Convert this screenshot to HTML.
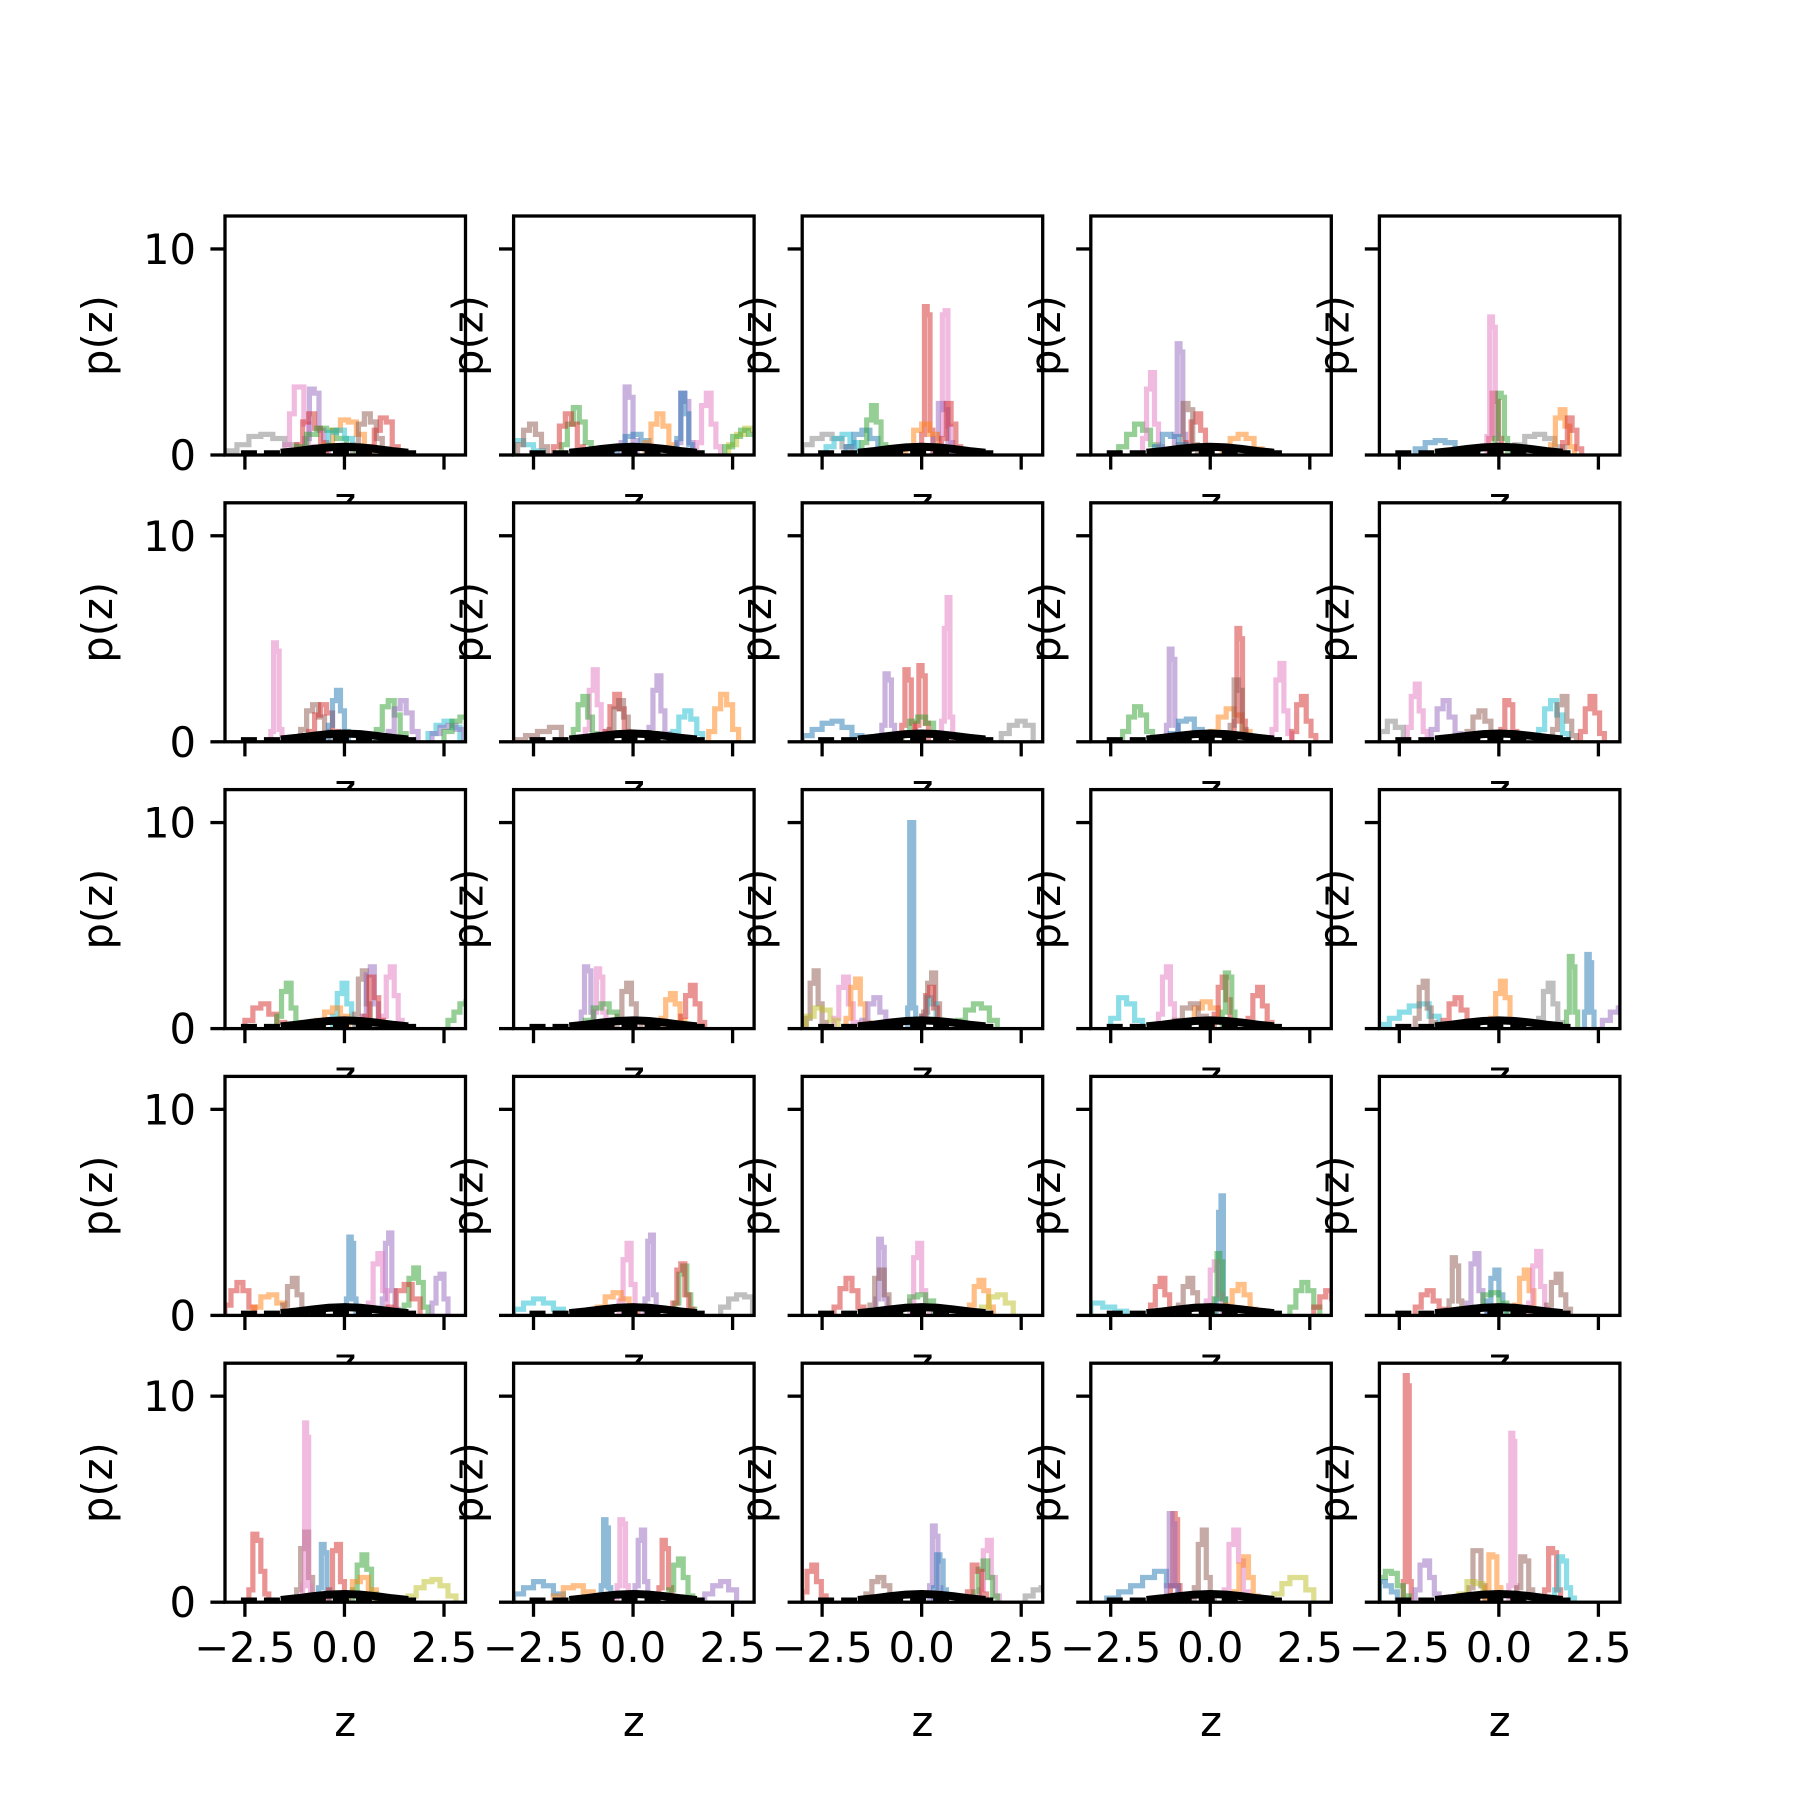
<!DOCTYPE html>
<html><head><meta charset="utf-8"><style>
html,body{margin:0;padding:0;background:#fff}
svg{display:block}
text{font-family:"DejaVu Sans","Liberation Sans",sans-serif;fill:#000}
</style></head><body>
<svg id="fig" width="1800" height="1800" viewBox="0 0 1800 1800" xmlns="http://www.w3.org/2000/svg"></svg>
<script>
const colors=["#1f77b4","#ff7f0e","#2ca02c","#d62728","#9467bd","#8c564b","#e377c2","#7f7f7f","#bcbd22","#17becf"];
const xTicks=[-2.5,0,2.5];
const xTickLabels=["\u22122.5","0.0","2.5"];
const yTicks=[0,10];
const yTickLabels=["0","10"];
const refX=[-1.6,-1.2,-0.8,-0.4,0,0.4,0.8,1.2,1.6];
const refY=[0.11,0.19,0.29,0.37,0.40,0.37,0.29,0.19,0.11];
const dashX=[-2.6,1.8];
const dashY=[0.12,0.12];
// each series: [colorIndex, firstBinLeft, binWidth, [densities]]
const hists=[
[[7,-3,0.3,[0.2,0.5,0.9,1.0,0.8,0.5,0.2]],[6,-1.5,0.12,[0.5,2,3.3,3.3,1.5,0.4]],[4,-1.0,0.12,[0.8,3.2,3.0,1.2,0.4]],[3,-1.2,0.15,[0.5,1.6,2.0,1.3,0.6]],[1,-0.5,0.2,[0.5,1.2,1.7,1.6,1.0,0.4]],[5,0.2,0.15,[0.5,1.5,2.0,1.6,0.8,0.3]],[3,0.6,0.15,[0.4,1.2,1.8,1.6,0.4]],[2,-1.2,0.25,[0.4,1.0,1.3,1.2,0.8,0.3]],[9,-0.6,0.2,[0.4,1.1,1.2,0.8,0.3]]],
[[9,-3,0.25,[0.7,0.5,0.2]],[5,-2.9,0.15,[0.5,1.2,1.5,1.0,0.4]],[2,-1.8,0.15,[0.5,1.5,2.3,1.6,0.6]],[3,-2.0,0.15,[0.4,1.4,2.0,1.5,0.4]],[4,-0.3,0.1,[0.6,3.3,2.8,0.7]],[0,-0.4,0.2,[0.4,0.9,1.0,0.7]],[1,0.3,0.15,[0.6,1.5,2.0,1.4,0.5]],[4,1.1,0.1,[0.6,3.0,2.6,0.6]],[0,1.1,0.1,[0.8,3.0,2.0,0.5]],[6,1.6,0.12,[0.6,2.4,3.0,1.5,0.4]],[8,2.4,0.2,[0.5,1.0,1.3,1.2]],[2,2.3,0.2,[0.4,0.9,1.2,1.0]]],
[[7,-3,0.25,[0.5,0.8,1.0,0.8,0.4]],[9,-2.4,0.2,[0.4,0.8,1.0,0.6]],[0,-1.9,0.2,[0.4,1.0,1.2,0.8,0.3]],[2,-1.5,0.12,[0.6,1.7,2.4,1.6,0.5]],[3,0.0,0.07,[1,7.2,6.8,1.2]],[6,0.45,0.07,[1,6.8,7.0,1.4]],[4,0.3,0.12,[0.8,2.5,2.2,0.6]],[1,-0.4,0.2,[0.4,1.2,1.5,1.0,0.4]],[3,0.5,0.12,[0.8,2.5,1.5,0.4]]],
[[2,-2.3,0.2,[0.4,1.0,1.5,1.2,0.5]],[6,-1.7,0.1,[0.8,3.2,4.0,1.5,0.4]],[4,-0.9,0.07,[1,5.4,5.0,1.0]],[3,-0.6,0.12,[0.6,1.6,2.0,1.2,0.4]],[5,-0.8,0.12,[0.5,2.5,2.2,0.5]],[1,0.3,0.2,[0.4,0.8,1.0,0.8,0.3]],[0,-1.4,0.2,[0.4,1.0,0.9,0.5]]],
[[0,-2.1,0.25,[0.3,0.6,0.7,0.6,0.3]],[3,-0.25,0.08,[0.8,3.0,2.6,0.8]],[6,-0.3,0.07,[0.9,6.7,6.2,1.0]],[2,-0.1,0.08,[0.8,3.0,2.8,0.8]],[7,0.4,0.25,[0.5,0.9,1.0,0.8,0.4]],[1,1.3,0.12,[0.5,1.8,2.2,1.4,0.4]],[3,1.6,0.12,[0.6,1.8,1.2,0.3]]],
[[6,-1.85,0.07,[0.5,4.8,4.4,0.6]],[5,-1.1,0.15,[0.6,1.5,1.8,1.2,0.5]],[3,-0.9,0.15,[0.5,1.3,1.8,1.4,0.5]],[0,-0.4,0.1,[0.8,2.0,2.5,1.5,0.5]],[2,0.8,0.15,[0.6,1.7,2.0,1.3,0.4]],[4,1.1,0.15,[0.5,1.6,2.0,1.4,0.5]],[9,2.1,0.2,[0.4,0.8,1.0,0.7]],[4,2.2,0.2,[0.4,0.7,0.8,0.6]],[2,2.5,0.2,[0.5,1.0,1.2,1.1]]],
[[5,-3,0.3,[0.1,0.3,0.5,0.7]],[6,-1.2,0.1,[0.6,2.5,3.5,1.8,0.5]],[2,-1.5,0.12,[0.6,1.8,2.2,1.2,0.4]],[3,-0.7,0.12,[0.5,1.7,2.3,1.6,0.5]],[5,-0.6,0.12,[0.6,1.6,2.0,1.2,0.4]],[4,0.4,0.1,[0.7,2.5,3.2,1.5,0.4]],[9,1.0,0.15,[0.5,1.2,1.5,1.1,0.4]],[1,1.9,0.15,[0.5,1.6,2.3,1.8,0.6]]],
[[0,-3,0.25,[0.3,0.6,0.9,1.0,0.7,0.3]],[4,-1.0,0.08,[0.8,3.3,3.0,0.8]],[3,-0.5,0.08,[0.8,3.5,3.0,0.9]],[3,-0.15,0.08,[0.8,3.7,3.2,0.9]],[6,0.5,0.07,[1,5.5,7.0,1.2]],[2,-0.5,0.2,[0.4,1.0,1.2,0.9,0.4]],[7,2.0,0.2,[0.4,0.8,1.0,0.8]]],
[[2,-2.2,0.15,[0.5,1.2,1.7,1.3,0.5]],[4,-1.1,0.07,[0.8,4.5,4.0,0.8]],[0,-1.0,0.2,[0.4,1.0,1.1,0.6]],[1,0.0,0.2,[0.5,1.2,1.6,1.3,0.5]],[3,0.6,0.07,[1,5.5,5.0,1.0]],[5,0.5,0.1,[0.8,3.0,2.5,0.6]],[6,1.55,0.1,[0.6,3.0,3.8,1.5,0.4]],[3,2.05,0.12,[0.5,1.8,2.2,1.0,0.3]]],
[[7,-3,0.2,[0.5,1.0,0.7]],[6,-2.3,0.1,[0.7,2.2,2.8,1.5,0.5]],[4,-1.7,0.15,[0.6,1.6,2.0,1.2,0.4]],[5,-0.8,0.15,[0.5,1.2,1.5,1.0,0.4]],[3,0.05,0.1,[0.6,2.0,1.8,0.5]],[9,1.0,0.15,[0.6,1.6,2.0,1.3,0.4]],[5,1.35,0.12,[0.6,1.8,2.2,1.0,0.3]],[3,2.05,0.12,[0.5,1.6,2.2,1.4,0.4]]],
[[3,-2.5,0.2,[0.4,1.0,1.2,0.7,0.3]],[2,-1.7,0.12,[0.6,1.8,2.2,1.0,0.3]],[9,-0.3,0.12,[0.6,1.7,2.2,1.2,0.3]],[1,-0.7,0.2,[0.4,0.8,1.0,0.6]],[5,0.25,0.1,[0.7,2.4,2.8,1.2,0.3]],[4,0.45,0.1,[0.6,2.6,3.0,1.2,0.3]],[6,0.95,0.1,[0.6,2.5,3.0,1.6,0.4]],[3,0.5,0.12,[0.6,2.5,1.5,0.4]],[2,2.6,0.15,[0.4,0.8,1.2,1.3]]],
[[4,-1.3,0.08,[0.8,3.0,2.8,0.8]],[6,-1.0,0.08,[0.8,2.9,2.5,0.8]],[5,-0.4,0.12,[0.6,1.8,2.2,1.2,0.4]],[2,-1.2,0.2,[0.4,1.0,1.2,0.8,0.3]],[1,0.7,0.12,[0.5,1.4,1.7,1.2,0.4]],[3,1.2,0.12,[0.6,1.6,2.1,1.2,0.3]]],
[[5,-2.9,0.1,[0.5,2.2,2.8,1.2,0.3]],[6,-2.2,0.12,[0.5,2.0,2.5,1.2,0.3]],[1,-1.9,0.12,[0.5,2.0,2.4,1.2,0.3]],[4,-1.5,0.15,[0.4,1.2,1.5,0.8,0.3]],[0,-0.35,0.05,[1,10,10,1]],[5,0.05,0.1,[0.8,2.2,2.7,1.2,0.3]],[2,0.9,0.2,[0.4,0.9,1.2,1.0,0.4]],[9,0.0,0.12,[0.6,1.5,1.2,0.4]],[3,0.0,0.1,[0.6,1.6,2.0,1.0,0.4]],[8,-2.9,0.2,[0.6,1.0,0.9,0.4]]],
[[9,-2.5,0.2,[0.5,1.5,1.2,0.4]],[6,-1.3,0.1,[0.7,2.5,3.0,1.2,0.3]],[1,-0.6,0.2,[0.4,1.0,1.3,1.0,0.4]],[3,0.1,0.1,[0.7,2.0,2.5,1.4,0.4]],[2,0.3,0.08,[0.8,2.7,2.5,0.8]],[3,0.95,0.12,[0.5,1.6,2.0,1.1,0.3]],[5,-0.9,0.2,[0.4,1.0,1.2,0.6]]],
[[9,-3,0.25,[0.2,0.5,0.8,1.1,1.2,0.6]],[5,-2.1,0.1,[0.5,2.0,2.3,1.0,0.3]],[3,-1.4,0.15,[0.4,1.2,1.5,0.9,0.3]],[1,-0.2,0.12,[0.5,1.7,2.3,1.5,0.4]],[7,1.0,0.12,[0.5,1.8,2.2,1.2,0.3]],[2,1.7,0.07,[0.8,3.5,3.0,0.8]],[0,2.15,0.06,[0.8,3.6,3.2,0.8]],[4,2.6,0.2,[0.4,0.8,1.0,1.0]]],
[[3,-3,0.15,[0.5,1.2,1.6,1.2,0.4]],[1,-2.3,0.2,[0.4,0.9,1.0,0.6]],[5,-1.55,0.12,[0.5,1.4,1.8,1.0,0.3]],[0,0.05,0.06,[0.8,3.8,3.5,0.8]],[4,0.95,0.08,[0.8,3.5,4.0,1.2,0.3]],[6,0.6,0.12,[0.6,2.5,3.0,1.2,0.3]],[2,1.5,0.12,[0.5,1.8,2.3,1.6,0.4]],[3,1.1,0.2,[0.4,1.2,1.5,0.8]],[4,2.2,0.1,[0.6,1.8,2.0,0.8]]],
[[9,-3,0.25,[0.3,0.6,0.8,0.6,0.3]],[6,-0.35,0.1,[0.7,2.7,3.5,1.5,0.4]],[4,0.3,0.07,[0.8,3.6,3.9,1.0]],[1,-0.9,0.2,[0.4,0.9,1.1,0.8,0.3]],[2,1.05,0.1,[0.6,2.0,2.4,1.0,0.3]],[3,1.0,0.1,[0.6,2.2,2.5,1.0,0.3]],[7,2.2,0.2,[0.4,0.8,1.0,0.9]]],
[[3,-2.2,0.15,[0.4,1.3,1.8,1.2,0.4]],[4,-1.15,0.07,[0.8,3.7,3.3,0.8]],[5,-1.3,0.12,[0.5,1.8,2.2,1.0,0.3]],[6,-0.3,0.1,[0.7,2.8,3.5,1.2,0.3]],[2,-0.5,0.2,[0.4,0.9,1.0,0.7]],[1,1.2,0.12,[0.5,1.4,1.7,1.2,0.4]],[8,1.5,0.2,[0.4,0.9,1.0,0.6]]],
[[9,-3,0.3,[0.6,0.4,0.2]],[3,-1.5,0.12,[0.5,1.4,1.8,1.0,0.3]],[5,-0.8,0.12,[0.5,1.4,1.8,1.1,0.3]],[0,0.15,0.06,[0.8,5.0,5.8,0.8]],[6,-0.1,0.1,[0.7,2.2,2.6,1.0]],[2,0.1,0.07,[0.8,3.0,2.6,0.8]],[1,0.4,0.15,[0.5,1.2,1.5,1.0,0.3]],[2,2.0,0.15,[0.4,1.2,1.6,1.2,0.4]],[3,2.6,0.15,[0.4,0.9,1.2,0.8]]],
[[3,-2.1,0.15,[0.4,1.0,1.2,0.7,0.3]],[5,-1.25,0.08,[0.7,2.8,2.4,0.7]],[4,-0.8,0.1,[0.6,2.5,3.0,1.2,0.3]],[0,-0.3,0.1,[0.7,1.8,2.2,1.0,0.3]],[1,0.4,0.12,[0.5,1.8,2.2,1.2,0.3]],[6,0.75,0.1,[0.6,2.4,3.1,1.4,0.3]],[5,1.2,0.12,[0.5,1.6,2.0,1.0,0.3]],[2,-0.6,0.2,[0.4,1.0,1.1,0.6]]],
[[3,-2.4,0.1,[0.6,3.3,3.0,1.5,0.4]],[5,-1.2,0.1,[0.6,2.6,3.4,1.2,0.3]],[6,-1.05,0.05,[0.8,8.7,8.0,0.8]],[0,-0.65,0.07,[0.7,2.8,2.4,0.6]],[3,-0.4,0.1,[0.6,2.5,2.8,1.0,0.3]],[2,0.2,0.12,[0.6,1.8,2.3,1.6,0.4]],[1,0.0,0.2,[0.4,1.0,1.2,0.6]],[8,1.6,0.2,[0.3,0.7,1.0,1.1,0.8,0.3]]],
[[0,-3,0.25,[0.4,0.7,1.0,0.8,0.4]],[1,-2.0,0.25,[0.3,0.7,0.8,0.5]],[0,-0.8,0.06,[0.8,4.0,3.6,0.7]],[6,-0.4,0.07,[0.8,4.0,3.8,0.8]],[4,0.05,0.08,[0.8,3.0,3.5,1.0]],[3,0.65,0.08,[0.7,3.0,2.6,0.7]],[2,0.9,0.12,[0.6,1.8,2.1,1.2,0.3]],[4,1.8,0.2,[0.4,0.8,1.0,0.6]]],
[[3,-3,0.12,[0.5,1.5,1.8,1.0,0.3]],[5,-1.4,0.15,[0.4,1.0,1.2,0.8,0.3]],[4,0.2,0.07,[0.8,3.7,3.2,0.7]],[0,0.3,0.08,[0.7,2.3,2.0,0.6]],[6,1.45,0.1,[0.6,2.5,3.0,1.2,0.3]],[2,1.3,0.12,[0.5,1.6,2.0,1.2,0.3]],[3,1.15,0.12,[0.5,1.8,1.5,0.4]],[7,2.6,0.2,[0.3,0.6,0.7]]],
[[0,-2.6,0.3,[0.2,0.5,0.8,1.2,1.5,0.8]],[3,-1.0,0.06,[0.8,4.3,4.0,0.8]],[4,-1.1,0.07,[0.8,4.3,3.8,0.8]],[5,-0.4,0.1,[0.7,2.8,3.5,1.2,0.3]],[6,0.35,0.12,[0.6,2.8,3.5,2.0,0.5]],[1,0.6,0.12,[0.5,1.8,2.2,1.2,0.3]],[8,1.6,0.2,[0.4,0.9,1.2,1.2,0.6]]],
[[3,-2.4,0.05,[1,11,10.5,1]],[2,-3,0.15,[1.2,1.5,1.4,0.8,0.3]],[0,-3,0.15,[1.0,0.8,0.5]],[4,-2.1,0.12,[0.6,1.8,2.0,1.2,0.4]],[5,-0.75,0.1,[0.7,2.5,2.5,0.8]],[1,-0.35,0.1,[0.7,2.3,2.2,0.7]],[6,0.25,0.05,[0.8,8.2,7.8,0.8]],[5,0.45,0.1,[0.7,2.2,2.0,0.6]],[3,1.15,0.1,[0.6,2.6,2.4,0.6]],[9,1.4,0.1,[0.6,2.2,2.0,0.7,0.2]],[8,-1.0,0.2,[0.4,1.0,0.9,0.4]]]
];
const NS="http://www.w3.org/2000/svg";
const svg=document.getElementById('fig');
const L0=225,T0=216,W=240.5,H=239,DX=288.6,DY=286.8;
const XMIN=-3.0,XMAX=3.04,YMIN=0,YMAX=11.6;
function mk(tag,attrs,parent){const e=document.createElementNS(NS,tag);for(const k in attrs)e.setAttribute(k,attrs[k]);(parent||svg).appendChild(e);return e;}
const defs=mk('defs',{});
for(let p=0;p<25;p++){
  const r=Math.floor(p/5),c=p%5;
  const L=L0+c*DX,T=T0+r*DY;
  const sx=v=>L+(v-XMIN)/(XMAX-XMIN)*W;
  const sy=v=>T+H-(v-YMIN)/(YMAX-YMIN)*H;
  const g=mk('g',{});
  
  
  const cp=mk('clipPath',{id:'cp'+p},defs);
  mk('rect',{x:L,y:T,width:W,height:H},cp);
  const face=mk('rect',{x:L,y:T,width:W,height:H,fill:'#fff'},g);
  
  
  const dg=mk('g',{'clip-path':'url(#cp'+p+')'},g);
  hists[p].forEach((s,i)=>{
    const [ci,x0,dx,vals]=s;
    let d='M'+sx(x0)+','+sy(0);
    vals.forEach((v,k)=>{d+=' L'+sx(x0+k*dx)+','+sy(v)+' L'+sx(x0+(k+1)*dx)+','+sy(v);});
    d+=' L'+sx(x0+vals.length*dx)+','+sy(0);
    const e=mk('path',{d:d,fill:'none',stroke:colors[ci],'stroke-opacity':0.5,'stroke-width':5.2,'stroke-linejoin':'miter'},dg);
    
    
  });
  const dl=mk('path',{d:'M'+sx(dashX[0])+','+sy(dashY[0])+' L'+sx(dashX[1])+','+sy(dashY[1]),stroke:'#000','stroke-width':4.5,'stroke-dasharray':'16 7',fill:'none'},dg);
  
  
  const rl=mk('path',{d:refX.map((x,k)=>(k?'L':'M')+sx(x)+','+sy(refY[k])).join(' '),stroke:'#000','stroke-width':8,fill:'none'},dg);
  
  
  const sp=mk('rect',{x:L,y:T,width:W,height:H,fill:'none',stroke:'#000','stroke-width':3.3},g);
  
  
  xTicks.forEach((t,k)=>{
    const tk=mk('line',{x1:sx(t),x2:sx(t),y1:T+H,y2:T+H+14.6,stroke:'#000','stroke-width':3.3},g);
    
    
    if(r===4){const tl=mk('text',{x:sx(t),y:T+H+60,'text-anchor':'middle','font-size':41.7},g);tl.textContent=xTickLabels[k];
      
      }
  });
  yTicks.forEach((t,k)=>{
    const tk=mk('line',{x1:L-14.6,x2:L,y1:sy(t),y2:sy(t),stroke:'#000','stroke-width':3.3},g);
    
    
    if(c===0){const tl=mk('text',{x:L-29,y:sy(t)+15,'text-anchor':'end','font-size':41.7},g);tl.textContent=yTickLabels[k];
      
      }
  });
  const ylx=(c===0)?L-113:L-31;
  const yl=mk('text',{x:0,y:0,'text-anchor':'middle','font-size':41.7,transform:'translate('+ylx+','+(T+H/2)+') rotate(-90)'},g);
  yl.textContent='p(z)';
  
  
  const xl=mk('text',{x:L+W/2,y:(r===4?T+H+134:T+H+62),'text-anchor':'middle','font-size':41.7},g);
  xl.textContent='z';
  
  
}
</script>
</body></html>
